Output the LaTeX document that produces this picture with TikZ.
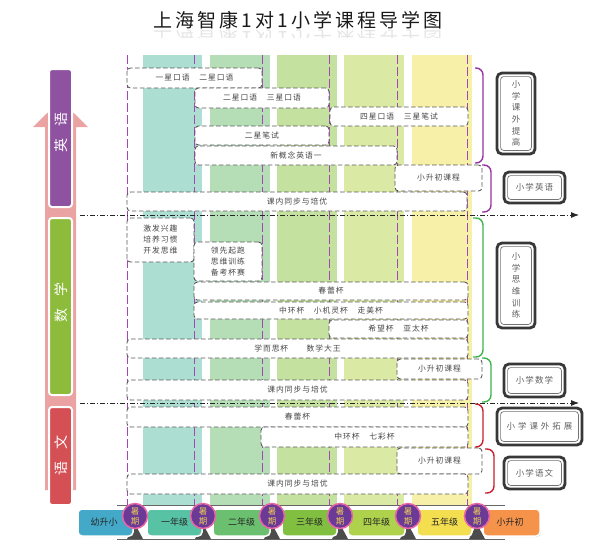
\documentclass[tikz,border=0pt]{standalone}
\usepackage{fontspec}
\usetikzlibrary{fit,shadows,arrows.meta}
\newfontfamily\cjk[LetterSpace=12]{Noto Sans CJK SC}
\newfontfamily\cjktitle[LetterSpace=16]{Noto Sans CJK SC}
\newfontfamily\cjkplain{Noto Sans CJK SC}
\definecolor{stA}{RGB}{172,222,210}
\definecolor{stB}{RGB}{181,222,182}
\definecolor{stC}{RGB}{197,225,160}
\definecolor{stD}{RGB}{218,234,164}
\definecolor{stE}{RGB}{246,240,168}
\definecolor{vline}{RGB}{165,70,180}
\definecolor{sbPink}{RGB}{235,162,162}
\definecolor{sbPurple}{RGB}{142,82,160}
\definecolor{sbGreen}{RGB}{141,188,60}
\definecolor{sbRed}{RGB}{212,80,84}
\definecolor{brPurple}{RGB}{150,50,160}
\definecolor{brGreen}{RGB}{60,180,75}
\definecolor{brRed}{RGB}{200,30,45}
\definecolor{tlA}{RGB}{68,169,200}
\definecolor{tlB}{RGB}{88,194,165}
\definecolor{tlC}{RGB}{107,192,112}
\definecolor{tlD}{RGB}{128,191,63}
\definecolor{tlE}{RGB}{174,210,75}
\definecolor{tlF}{RGB}{242,222,79}
\definecolor{tlG}{RGB}{245,147,74}
\definecolor{sumPurple}{RGB}{107,58,150}
\definecolor{sumPink}{RGB}{233,102,166}
\definecolor{sumGold}{RGB}{231,199,90}
% box node from corner coordinates: style, name, x1, y1, x2, y2, text
\newcommand\bx[7]{%
  \node[#1, minimum width={#5-#3}, minimum height={#6-#4}] (#2) at ({(#3+#5)/2},{(#4+#6)/2}) {#7};
}
\newcommand\rlab[6]{%
  \bx{rlabbox}{#1}{#2}{#3}{#4}{#5}{#6}
  \draw[rinner] (#2+3.6,#3+3.6) rectangle (#4-3.6,#5-3.6);
}
\newcommand\brk[5]{% colour x1 y1 x2 y2
  \draw[bracket, #1] (#2,#3) -- (#4,#3) -- (#4,#5) -- (#2,#5);
}
\begin{document}
\begin{tikzpicture}[x=1pt,y=-1pt,
  vdash/.style={vline, line width=1pt, dash pattern=on 9pt off 3pt},
  dashdot/.style={black!85, line width=0.8pt, dash pattern=on 5pt off 2pt on 1pt off 2pt},
  course/.style={draw=black!65, line width=0.9pt, dash pattern=on 4.5pt off 2.5pt,
    rounded corners=3.5pt, fill=white, inner sep=0pt,
    font=\cjk\fontsize{7.8}{11}\selectfont, text=black!72, align=center},
  sidebox/.style={draw=white, line width=2pt, rounded corners=3pt, inner sep=0pt,
    drop shadow={opacity=0.25, shadow xshift=0.8pt, shadow yshift=-0.8pt}},
  sidetext/.style={rotate=90, text=white, font=\cjkplain\fontsize{14}{15}\selectfont},
  rlabbox/.style={draw=black!78, line width=2.8pt, rounded corners=5pt, fill=white,
    inner sep=0pt, font=\cjk\fontsize{8.5}{11.6}\selectfont, text=black!62, align=center},
  rinner/.style={black!55, line width=0.7pt, rounded corners=3pt},
  bracket/.style={line width=1.4pt, rounded corners=7pt},
  tlbox/.style={draw=white, line width=1.5pt, rounded corners=4pt, inner sep=0pt,
    drop shadow={opacity=0.3, shadow xshift=0.8pt, shadow yshift=-1pt},
    font=\cjkplain\fontsize{9}{10}\selectfont, text=black!85},
  summer/.style={circle, fill=sumPurple, draw=sumPink, line width=1.5pt, minimum size=25pt,
    inner sep=0pt, font=\cjkplain\fontsize{8.5}{10}\selectfont, text=sumGold, align=center}
]
\useasboundingbox (0,0) rectangle (600,550);

% title and its faint reflection
\node[font=\cjktitle\fontsize{19}{20}\selectfont, text=black!90] (title) at (298,20) {上海智康1对1小学课程导学图};
\begin{scope}
  \clip (130,29.5) rectangle (470,37);
  \begin{scope}[shift={(298,38.5)}]
    \node[yscale=-1, transform shape, font=\cjktitle\fontsize{19}{20}\selectfont, text=black!10] (titlerefl) at (0,0) {上海智康1对1小学课程导学图};
  \end{scope}
\end{scope}

% grade stripes
\fill[stA] (143,55) rectangle (202,505);
\fill[stB] (210,55) rectangle (270,505);
\fill[stC] (277,55) rectangle (337,505);
\fill[stD] (344,55) rectangle (404,505);
\fill[stE] (412,55) rectangle (472,505);

% purple dashed vertical lines
\foreach \xx in {127,194,262,329,397,467} {
  \draw[vdash] (\xx,55) -- (\xx,505);
}

% left sidebar arrow
\fill[sbPink] (45,490) -- (45,127) -- (33,127) -- (60.5,100) -- (88,127) -- (76,127) -- (76,490) -- cycle;
\bx{sidebox, fill=sbPurple}{sbEn}{49}{69}{72}{207}{}
\bx{sidebox, fill=sbGreen}{sbMa}{49}{218}{72}{395}{}
\bx{sidebox, fill=sbRed}{sbCh}{49}{407}{72}{505}{}
\node[sidetext] (sbEnT) at (61,132) {英\hspace{12pt}语};
\node[sidetext] (sbMaT) at (61,302) {数\hspace{12pt}学};
\node[sidetext] (sbChT) at (61,455) {语\hspace{12pt}文};

% dash-dot separators
\coordinate (sepAs) at (80,215);
\coordinate (sepAe) at (579,215);
\coordinate (sepBs) at (80,403);
\coordinate (sepBe) at (579,403);
\draw[dashdot, -{Latex[length=8pt,width=6pt]}] (sepAs) -- (sepAe);
\draw[dashdot, -{Latex[length=8pt,width=6pt]}] (sepBs) -- (sepBe);

% English courses
\bx{course}{e1}{127}{68}{262}{88}{一星口语　二星口语}
\bx{course}{e2}{195}{88}{329}{108}{二星口语　三星口语}
\bx{course}{e3}{330}{107}{468}{126}{四星口语　三星笔试}
\bx{course}{e4}{195}{126}{329}{145}{二星笔试}
\bx{course}{e5}{195}{146}{397}{165}{新概念英语一}
\bx{course}{e6}{395}{165}{482}{191}{小升初课程}
\bx{course}{e7}{127}{192}{467}{211}{课内同步与培优}

% Maths courses
\bx{course}{m1}{127}{218}{194}{262}{激发兴趣\\培养习惯\\开发思维}
\bx{course}{m2}{194}{242}{262}{281}{领先起跑\\思维训练\\备考杯赛}
\bx{course}{m3}{194}{282}{468}{300}{春蕾杯}
\bx{course}{m4}{194}{302}{468}{319}{中环杯　小机灵杯　走美杯}
\bx{course}{m5}{329}{320}{468}{338}{希望杯　亚太杯}
\bx{course}{m6}{127}{339}{468}{358}{学而思杯　　数学大王}
\bx{course}{m7}{397}{359}{482}{379}{小升初课程}
\bx{course}{m8}{127}{380}{468}{400}{课内同步与培优}

% Chinese courses
\bx{course}{c1}{127}{407}{468}{427}{春蕾杯}
\bx{course}{c2}{261}{427}{468}{447}{中环杯　七彩杯}
\bx{course}{c3}{397}{448}{482}{474}{小升初课程}
\bx{course}{c4}{127}{474}{468}{494}{课内同步与培优}

% brackets
\brk{brPurple}{475}{68}{483}{163}
\brk{brPurple}{482}{165}{491}{212}
\brk{brGreen}{473}{218}{483}{357}
\brk{brGreen}{482}{358}{491}{402}
\brk{brRed}{475}{404}{483}{447}
\brk{brRed}{485}{449}{494}{493}

% right labels
\rlab{r1}{497}{73}{535}{154}{小\\学\\课\\外\\提\\高}
\rlab{r2}{504}{172}{565}{203}{小学英语}
\rlab{r3}{497}{243}{535}{328}{小\\学\\思\\维\\训\\练}
\rlab{r4}{504}{364}{565}{397}{小学数学}
\rlab{r5}{497}{408}{582}{445}{小 学 课 外 拓 展}
\rlab{r6}{504}{457}{565}{489}{小学语文}

% timeline
\draw[black!60, line width=1pt] (117,505) -- (505,505);
\draw[black!60, line width=1pt] (117,539) -- (505,539);
\foreach \cx in {135,203,272,340,408,477} {
  \fill[black!70] (\cx-8,539) -- (\cx+8,539) -- (\cx,524) -- cycle;
}
\bx{tlbox, fill=tlA}{g0}{78}{509}{133}{536}{\hspace*{-3pt}幼升小}
\bx{tlbox, fill=tlB}{g1}{147}{509}{202}{536}{一年级}
\bx{tlbox, fill=tlC}{g2}{213}{509}{270}{536}{二年级}
\bx{tlbox, fill=tlD}{g3}{282}{509}{337}{536}{三年级}
\bx{tlbox, fill=tlE}{g4}{348}{509}{405}{536}{四年级}
\bx{tlbox, fill=tlF}{g5}{417}{509}{472}{536}{五年级}
\bx{tlbox, fill=tlG}{g6}{483}{509}{540}{536}{\hspace*{-3pt}小升初}
\node[summer] (s1) at (135,516) {暑\\期};
\node[summer] (s2) at (203,516) {暑\\期};
\node[summer] (s3) at (272,516) {暑\\期};
\node[summer] (s4) at (340,516) {暑\\期};
\node[summer] (s5) at (408,516) {暑\\期};
\node[summer] (s6) at (477,516) {暑\\期};
\end{tikzpicture}
\end{document}
